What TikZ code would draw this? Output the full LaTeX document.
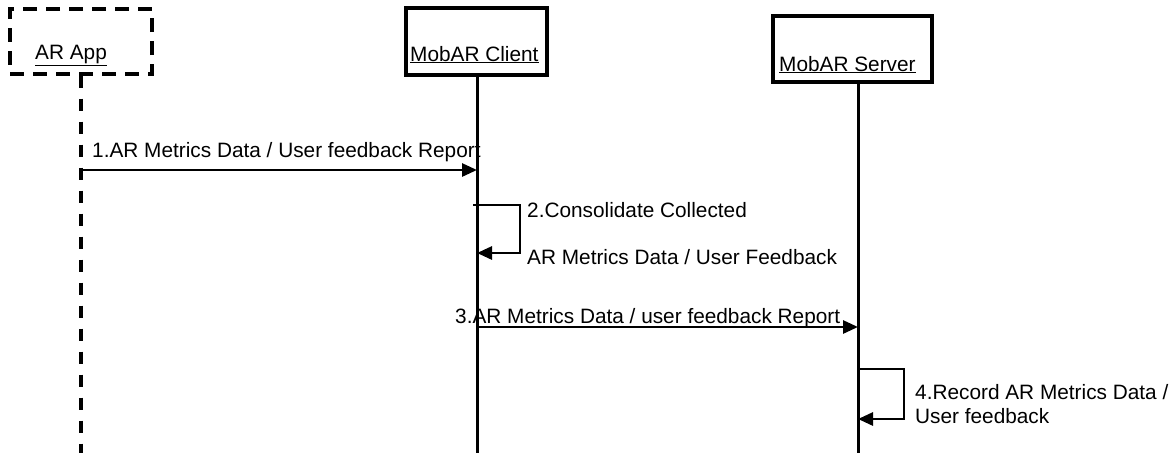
\documentclass[tikz,border=0pt]{standalone}
\usepackage{fontspec}
\setmainfont{Liberation Sans}
\usetikzlibrary{arrows.meta}
\begin{document}
\begin{tikzpicture}[x=1pt,y=-1pt,
  every node/.style={font=\fontsize{20.8}{25}\selectfont, inner sep=0pt},
  objbox/.style={draw, line width=3.4pt, minimum width=#1},
  dashbox/.style={draw, line width=3.4pt, dash pattern=on 14pt off 9pt},
  life/.style={line width=3pt},
  dlife/.style={line width=3.4pt, dash pattern=on 12pt off 11pt},
  msg/.style={line width=2.8pt, -{Triangle[length=15pt,width=13pt]}},
  lbl/.style={anchor=base west}]
\useasboundingbox (0,0) rectangle (1175,453);
% boxes
\node[dashbox, minimum width=142pt, minimum height=65pt] (appbox) at (81,41.5) {};
\node[objbox=141pt, minimum height=67pt] (clibox) at (476.5,41.5) {};
\node[objbox=159pt, minimum height=66pt] (srvbox) at (852.5,49) {};
\node[lbl] (apptxt) at (35,59) {\underline{AR App}};
\node[lbl] (clitxt) at (410,61) {\underline{MobAR Client}};
\node[lbl] (srvtxt) at (779,71) {\underline{MobAR Server}};
% lifeline ends
\coordinate (append) at (81,453);
\coordinate (cliend) at (477,453);
\coordinate (srvend) at (858,453);
\draw[dlife] (appbox.south -| append) -- (append);
\draw[life] (clibox.south -| cliend) -- (cliend);
\draw[life] (srvbox.south -| srvend) -- (srvend);
% message 1
\coordinate (m1s) at (81,170);
\coordinate (m1e) at (477,170);
\draw[msg] (m1s) -- (m1e);
\node[lbl] (l1) at (92,157) {1.AR Metrics Data / User feedback Report};
% message 2
\coordinate (m2s) at (473,205);
\coordinate (m2c1) at (520,205);
\coordinate (m2c2) at (520,253);
\coordinate (m2e) at (477,253);
\draw[msg] (m2s) -- (m2c1) -- (m2c2) -- (m2e);
\node[lbl] (l2a) at (527,217) {2.Consolidate Collected};
\node[lbl] (l2b) at (527,264) {AR Metrics Data / User Feedback};
% message 3
\coordinate (m3s) at (477,327);
\coordinate (m3e) at (858,327);
\draw[msg] (m3s) -- (m3e);
\node[lbl] (l3) at (455,323) {3.AR Metrics Data / user feedback Report};
% message 4
\coordinate (m4s) at (857,369);
\coordinate (m4c1) at (904,369);
\coordinate (m4c2) at (904,419);
\coordinate (m4e) at (858,419);
\draw[msg] (m4s) -- (m4c1) -- (m4c2) -- (m4e);
\node[lbl] (l4a) at (915,399) {4.Record AR Metrics Data /};
\node[lbl] (l4b) at (915,423) {User feedback};
\end{tikzpicture}
\end{document}
